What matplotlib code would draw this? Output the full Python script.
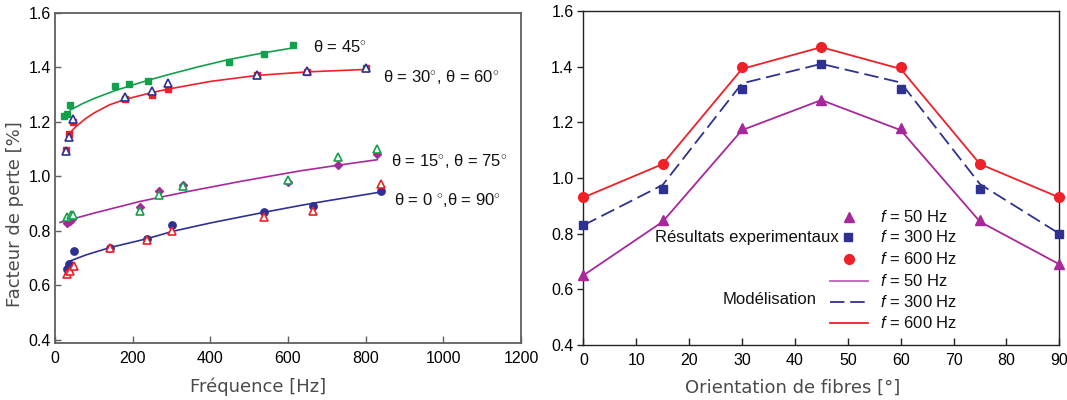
import matplotlib
matplotlib.use("Agg")
import matplotlib.pyplot as plt
from matplotlib.lines import Line2D

plt.rcParams["mathtext.fontset"] = "custom"
plt.rcParams["mathtext.rm"] = "Liberation Sans"
plt.rcParams["mathtext.it"] = "Liberation Sans:italic"

# ---------------- Left panel data ----------------
# theta = 45
f45 = [23, 30, 39, 154, 191, 239, 447, 537, 613]
v45 = [1.22, 1.23, 1.26, 1.33, 1.34, 1.35, 1.42, 1.45, 1.48]
fit45_x = [39, 70, 100, 154, 200, 239, 300, 370, 447, 530, 613]
fit45_y = [1.243, 1.266, 1.285, 1.314, 1.335, 1.352, 1.376, 1.402, 1.428, 1.451, 1.471]

# theta = 30 / 60
f3060 = [27.5, 36, 45.5, 180, 250, 290, 520, 650, 801]
v30 = [1.098, 1.157, 1.201, 1.283, 1.300, 1.321, 1.371, 1.381, 1.399]
v60 = [1.093, 1.145, 1.211, 1.292, 1.313, 1.342, 1.373, 1.385, 1.396]
fit3060_x = [32, 45, 60, 80, 100, 140, 180, 249, 292, 400, 520, 650, 801]
fit3060_y = [1.142, 1.170, 1.190, 1.213, 1.232, 1.262, 1.282, 1.307, 1.320, 1.348, 1.370, 1.383, 1.392]

# theta = 15 / 75
f15 = [31.7, 38.6, 44.6, 219, 269, 329, 601, 730, 830]
v15 = [0.829, 0.837, 0.843, 0.889, 0.948, 0.969, 0.979, 1.041, 1.081]
f75 = [31.7, 41, 47, 219, 269, 329, 601, 730, 830]
v75 = [0.852, 0.859, 0.858, 0.872, 0.932, 0.963, 0.988, 1.071, 1.102]
fit1575_x = [13, 100, 219, 348, 480, 631, 730, 830]
fit1575_y = [0.831, 0.865, 0.908, 0.946, 0.982, 1.020, 1.041, 1.061]

# theta = 0 / 90
f0 = [30, 37, 48, 142, 236, 301, 538, 664, 839]
v0 = [0.659, 0.680, 0.728, 0.739, 0.770, 0.820, 0.870, 0.890, 0.948]
f90 = [30, 39, 48, 142, 238, 301, 538, 664, 839]
v90 = [0.641, 0.653, 0.670, 0.739, 0.767, 0.800, 0.852, 0.872, 0.973]
fit090_x = [34, 80, 142, 236, 305, 400, 538, 631, 700, 837]
fit090_y = [0.687, 0.712, 0.739, 0.771, 0.799, 0.829, 0.868, 0.893, 0.910, 0.942]

# ---------------- Right panel data ----------------
angles = [0, 15, 30, 45, 60, 75, 90]
exp50 = [0.65, 0.85, 1.18, 1.28, 1.18, 0.85, 0.69]
exp300 = [0.83, 0.96, 1.32, 1.41, 1.32, 0.96, 0.80]
exp600 = [0.93, 1.05, 1.40, 1.47, 1.40, 1.05, 0.93]
mod50 = [0.65, 0.843, 1.172, 1.28, 1.172, 0.843, 0.69]
mod300 = [0.83, 0.975, 1.34, 1.41, 1.343, 0.978, 0.80]
mod600 = [0.93, 1.05, 1.392, 1.47, 1.392, 1.05, 0.93]

GREEN = "#13a04b"
RED = "#ee2028"
BLUE = "#2e3192"
MAG = "#a8279a"
FRAME_GRAY = "#606060"
LABEL_GRAY = "#4a4a4a"

TICKFONT = "Liberation Sans"
LABELFONT = "DejaVu Sans"

W, H = 1067.0, 400.0
def fx(px):
    return px / W
def fy(py):
    return 1 - py / H

fig = plt.figure(figsize=(10.67, 4.0), dpi=100)

# ================= LEFT =================
ax1 = fig.add_axes([0.05155, 0.14325, 0.4367, 0.825])
lw = 1.2
ax1.plot(fit45_x, fit45_y, color=GREEN, lw=lw, zorder=2)
ax1.plot(fit3060_x, fit3060_y, color=RED, lw=lw, zorder=2)
ax1.plot(fit1575_x, fit1575_y, color=MAG, lw=lw, zorder=2)
ax1.plot(fit090_x, fit090_y, color=BLUE, lw=lw, zorder=2)

ax1.plot(f45, v45, ls="none", marker="s", ms=4.8, color=GREEN, mec=GREEN, zorder=3)
ax1.plot(f3060, v30, ls="none", marker="s", ms=4.8, color=RED, mec=RED, zorder=3)
ax1.plot(f3060, v60, ls="none", marker="^", ms=5.3, mfc="white", mec=BLUE, mew=1.2, zorder=4)
ax1.plot(f15, v15, ls="none", marker="D", ms=4.5, color=MAG, mec=MAG, zorder=3)
ax1.plot(f75, v75, ls="none", marker="^", ms=5.3, mfc="white", mec=GREEN, mew=1.2, zorder=4)
ax1.plot(f0, v0, ls="none", marker="o", ms=5.3, color=BLUE, mec=BLUE, zorder=3)
ax1.plot(f90, v90, ls="none", marker="^", ms=5.3, mfc="white", mec=RED, mew=1.2, zorder=4)

ax1.set_xlim(0, 1200)
ax1.set_ylim(0.39, 1.6)
ax1.set_xticks([0, 200, 400, 600, 800, 1000, 1200])
ax1.set_yticks([0.4, 0.6, 0.8, 1.0, 1.2, 1.4, 1.6])
ax1.set_yticklabels(["0.4", "0.6", "0.8", "1.0", "1.2", "1.4", "1.6"])
ax1.tick_params(axis="x", direction="in", length=5, width=1, color=FRAME_GRAY, pad=6)
ax1.tick_params(axis="y", direction="in", length=4, width=1, color=FRAME_GRAY, pad=3)
for lab in ax1.get_xticklabels() + ax1.get_yticklabels():
    lab.set_fontfamily(TICKFONT)
    lab.set_fontsize(11.5)
for sp in ax1.spines.values():
    sp.set_color(FRAME_GRAY)
    sp.set_linewidth(1.3)

lab_kw = dict(fontfamily=LABELFONT, fontsize=13, color=LABEL_GRAY, ha="center", va="center")
fig.text(fx(258.5), fy(387), "Fréquence [Hz]", **lab_kw)
fig.text(fx(15), fy(214), "Facteur de perte [%]", rotation=90, **lab_kw)

ann_kw = dict(fontfamily=TICKFONT, fontsize=12, color="#111111", va="center", ha="left")
ax1.text(0.553, 0.8947, r"θ = 45$^{\circ}$", transform=ax1.transAxes, **ann_kw)
ax1.text(0.703, 0.8066, r"θ = 30$^{\circ}$, θ = 60$^{\circ}$", transform=ax1.transAxes, **ann_kw)
ax1.text(0.722, 0.5515, r"θ = 15$^{\circ}$, θ = 75$^{\circ}$", transform=ax1.transAxes, **ann_kw)
ax1.text(0.727, 0.4321, r"θ = 0 $^{\circ}$,θ = 90$^{\circ}$", transform=ax1.transAxes, **ann_kw)

# ================= RIGHT =================
ax2 = fig.add_axes([0.5467, 0.1375, 0.4461, 0.835])
ax2.plot(angles, mod600, color=RED, lw=1.3, zorder=2)
ax2.plot(angles, mod300, color=BLUE, lw=1.3, ls=(0, (8, 3.2)), zorder=2)
ax2.plot(angles, mod50, color=MAG, lw=1.3, zorder=2)
ax2.plot(angles, exp600, ls="none", marker="o", ms=7, color=RED, zorder=3, clip_on=False)
ax2.plot(angles, exp300, ls="none", marker="s", ms=5.5, color=BLUE, zorder=3, clip_on=False)
ax2.plot(angles, exp50, ls="none", marker="^", ms=6.5, color=MAG, zorder=3, clip_on=False)

ax2.set_xlim(0, 90)
ax2.set_ylim(0.4, 1.6)
ax2.set_xticks(list(range(0, 91, 10)))
ax2.set_yticks([0.4, 0.6, 0.8, 1.0, 1.2, 1.4, 1.6])
ax2.set_yticklabels(["0.4", "0.6", "0.8", "1.0", "1.2", "1.4", "1.6"])
ax2.tick_params(axis="x", direction="in", length=5, width=1, color="#222222", pad=6)
ax2.tick_params(axis="y", direction="out", length=4, width=1, color="#222222", pad=3)
for lab in ax2.get_xticklabels() + ax2.get_yticklabels():
    lab.set_fontfamily(TICKFONT)
    lab.set_fontsize(11.5)
for sp in ax2.spines.values():
    sp.set_color("#222222")
    sp.set_linewidth(1.0)
fig.text(fx(793), fy(388), "Orientation de fibres [°]", **lab_kw)

# custom legend
rows = [216.7, 237.3, 259.3, 281.0, 301.7, 323.3]
leg_kw = dict(fontfamily=TICKFONT, fontsize=12, color="#111111", va="center", ha="left")
texts = [r"$f$ = 50 Hz", r"$f$ = 300 Hz", r"$f$ = 600 Hz",
         r"$f$ = 50 Hz", r"$f$ = 300 Hz", r"$f$ = 600 Hz"]
for r, t in zip(rows, texts):
    fig.text(fx(880), fy(r), t, **leg_kw)

fig.add_artist(Line2D([fx(849)], [fy(rows[0])], marker="^", ms=6.5, color=MAG, ls="none"))
fig.add_artist(Line2D([fx(848)], [fy(rows[1])], marker="s", ms=5.5, color=BLUE, ls="none"))
fig.add_artist(Line2D([fx(849)], [fy(rows[2])], marker="o", ms=7, color=RED, ls="none"))
fig.add_artist(Line2D([fx(830), fx(868)], [fy(rows[3])] * 2, color="#c85bbd", lw=1.3))
fig.add_artist(Line2D([fx(830), fx(868)], [fy(rows[4])] * 2, color=BLUE, lw=1.3, ls=(0, (8, 3.2))))
fig.add_artist(Line2D([fx(830), fx(868)], [fy(rows[5])] * 2, color=RED, lw=1.3))

grp_kw = dict(fontfamily=TICKFONT, fontsize=12, color="#111111", va="center", ha="right")
fig.text(fx(839), fy(rows[1]), "Résultats experimentaux", **grp_kw)
fig.text(fx(817), fy(rows[4] - 2), "Modélisation", **grp_kw)

fig.savefig("out.png", dpi=100)
